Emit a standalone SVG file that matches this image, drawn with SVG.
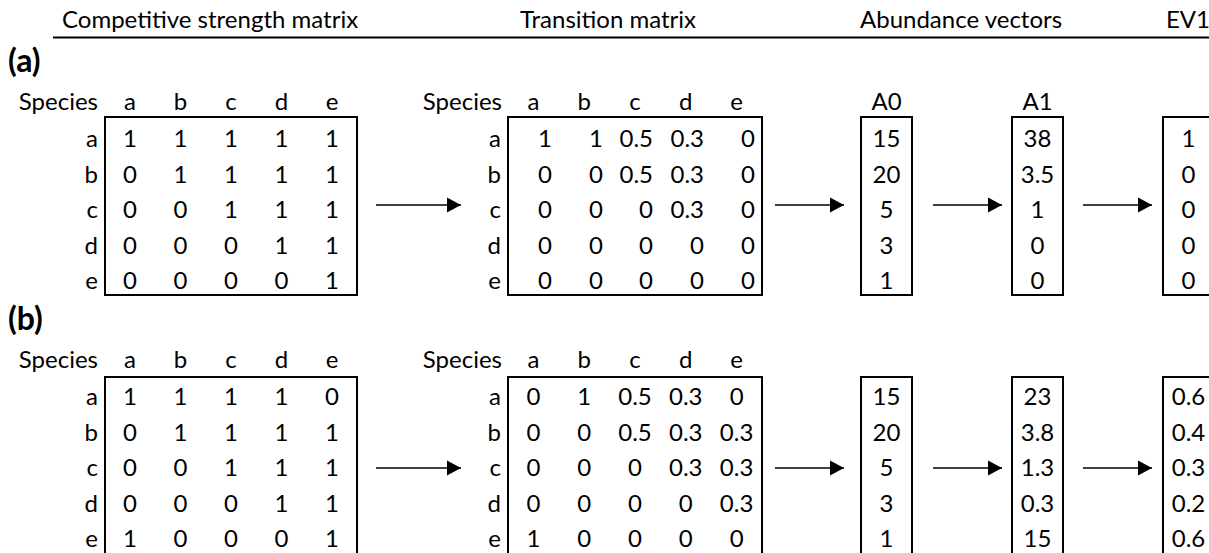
<svg xmlns="http://www.w3.org/2000/svg" width="1209" height="553" viewBox="0 0 1209 553">
<style>
text{font-family:Lato,"Open Sans","Liberation Sans",sans-serif;font-size:24px;fill:#000}
.p{font-size:32px;font-weight:bold}
.c{text-anchor:middle}
.r{text-anchor:end}
.box{fill:none;stroke:#000;stroke-width:2}
.hl{stroke:#000;stroke-width:2}
.ar{stroke:#000;stroke-width:1.6;fill:none;marker-end:url(#ah)}
</style>
<defs>
<marker id="ah" markerUnits="userSpaceOnUse" markerWidth="15" markerHeight="16" refX="14" refY="8" orient="auto">
<path d="M0,0.5 L14,8 L0,15.5 Z" fill="#000"/>
</marker>
</defs>
<rect width="1209" height="553" fill="#fff"/>
<g id="header">
<text x="62" y="28">Competitive strength matrix</text>
<text x="520" y="28">Transition matrix</text>
<text x="860" y="28">Abundance vectors</text>
<text x="1166" y="28">EV1</text>
<line class="hl" x1="53" y1="37.5" x2="1209" y2="37.5"/>
</g>
<g id="label-a"><text class="p" x="8" y="72">(a)</text></g>
<g id="label-b"><text class="p" x="8" y="330">(b)</text></g>

<g id="a-competitive">
<rect class="box" x="105" y="117" width="252" height="178"/>
<text class="r" x="98" y="110">Species</text>
<g class="c"><text x="130" y="110">a</text><text x="180.5" y="110">b</text><text x="231" y="110">c</text><text x="281.5" y="110">d</text><text x="332" y="110">e</text></g>
<g class="r"><text x="98" y="147">a</text><text x="98" y="182.5">b</text><text x="98" y="218">c</text><text x="98" y="253.5">d</text><text x="98" y="289">e</text></g>
<g class="c">
<text x="130" y="147">1</text><text x="180.5" y="147">1</text><text x="231" y="147">1</text><text x="281.5" y="147">1</text><text x="332" y="147">1</text>
<text x="130" y="182.5">0</text><text x="180.5" y="182.5">1</text><text x="231" y="182.5">1</text><text x="281.5" y="182.5">1</text><text x="332" y="182.5">1</text>
<text x="130" y="218">0</text><text x="180.5" y="218">0</text><text x="231" y="218">1</text><text x="281.5" y="218">1</text><text x="332" y="218">1</text>
<text x="130" y="253.5">0</text><text x="180.5" y="253.5">0</text><text x="231" y="253.5">0</text><text x="281.5" y="253.5">1</text><text x="332" y="253.5">1</text>
<text x="130" y="289">0</text><text x="180.5" y="289">0</text><text x="231" y="289">0</text><text x="281.5" y="289">0</text><text x="332" y="289">1</text>
</g>
</g>

<g id="a-transition">
<rect class="box" x="508" y="117" width="254" height="178"/>
<text class="r" x="502" y="110">Species</text>
<g class="c"><text x="533.4" y="110">a</text><text x="584.2" y="110">b</text><text x="635" y="110">c</text><text x="685.8" y="110">d</text><text x="736.6" y="110">e</text></g>
<g class="r"><text x="501" y="147">a</text><text x="501" y="182.5">b</text><text x="501" y="218">c</text><text x="501" y="253.5">d</text><text x="501" y="289">e</text></g>
<g class="r">
<text x="552" y="147">1</text><text x="603" y="147">1</text><text x="653" y="147">0.5</text><text x="704" y="147">0.3</text><text x="755" y="147">0</text>
<text x="552" y="182.5">0</text><text x="603" y="182.5">0</text><text x="653" y="182.5">0.5</text><text x="704" y="182.5">0.3</text><text x="755" y="182.5">0</text>
<text x="552" y="218">0</text><text x="603" y="218">0</text><text x="653" y="218">0</text><text x="704" y="218">0.3</text><text x="755" y="218">0</text>
<text x="552" y="253.5">0</text><text x="603" y="253.5">0</text><text x="653" y="253.5">0</text><text x="704" y="253.5">0</text><text x="755" y="253.5">0</text>
<text x="552" y="289">0</text><text x="603" y="289">0</text><text x="653" y="289">0</text><text x="704" y="289">0</text><text x="755" y="289">0</text>
</g>
</g>

<g id="a-A0">
<rect class="box" x="861" y="117" width="51" height="178"/>
<g class="c"><text x="886.5" y="110">A0</text>
<text x="886.5" y="147">15</text><text x="886.5" y="182.5">20</text><text x="886.5" y="218">5</text><text x="886.5" y="253.5">3</text><text x="886.5" y="289">1</text></g>
</g>
<g id="a-A1">
<rect class="box" x="1012" y="117" width="51" height="178"/>
<g class="c"><text x="1037.5" y="110">A1</text>
<text x="1037.5" y="147">38</text><text x="1037.5" y="182.5">3.5</text><text x="1037.5" y="218">1</text><text x="1037.5" y="253.5">0</text><text x="1037.5" y="289">0</text></g>
</g>
<g id="a-EV1">
<rect class="box" x="1163" y="117" width="51" height="178"/>
<g class="c">
<text x="1188.5" y="147">1</text><text x="1188.5" y="182.5">0</text><text x="1188.5" y="218">0</text><text x="1188.5" y="253.5">0</text><text x="1188.5" y="289">0</text></g>
</g>

<g id="b-competitive">
<rect class="box" x="105" y="377" width="252" height="180"/>
<text class="r" x="98" y="368">Species</text>
<g class="c"><text x="130" y="368">a</text><text x="180.5" y="368">b</text><text x="231" y="368">c</text><text x="281.5" y="368">d</text><text x="332" y="368">e</text></g>
<g class="r"><text x="98" y="405">a</text><text x="98" y="440.5">b</text><text x="98" y="476">c</text><text x="98" y="511.5">d</text><text x="98" y="547">e</text></g>
<g class="c">
<text x="130" y="405">1</text><text x="180.5" y="405">1</text><text x="231" y="405">1</text><text x="281.5" y="405">1</text><text x="332" y="405">0</text>
<text x="130" y="440.5">0</text><text x="180.5" y="440.5">1</text><text x="231" y="440.5">1</text><text x="281.5" y="440.5">1</text><text x="332" y="440.5">1</text>
<text x="130" y="476">0</text><text x="180.5" y="476">0</text><text x="231" y="476">1</text><text x="281.5" y="476">1</text><text x="332" y="476">1</text>
<text x="130" y="511.5">0</text><text x="180.5" y="511.5">0</text><text x="231" y="511.5">0</text><text x="281.5" y="511.5">1</text><text x="332" y="511.5">1</text>
<text x="130" y="547">1</text><text x="180.5" y="547">0</text><text x="231" y="547">0</text><text x="281.5" y="547">0</text><text x="332" y="547">1</text>
</g>
</g>

<g id="b-transition">
<rect class="box" x="508" y="377" width="254" height="180"/>
<text class="r" x="502" y="368">Species</text>
<g class="c"><text x="533.4" y="368">a</text><text x="584.2" y="368">b</text><text x="635" y="368">c</text><text x="685.8" y="368">d</text><text x="736.6" y="368">e</text></g>
<g class="r"><text x="501" y="405">a</text><text x="501" y="440.5">b</text><text x="501" y="476">c</text><text x="501" y="511.5">d</text><text x="501" y="547">e</text></g>
<g class="c">
<text x="533.4" y="405">0</text><text x="584.2" y="405">1</text><text x="635" y="405">0.5</text><text x="685.8" y="405">0.3</text><text x="736.6" y="405">0</text>
<text x="533.4" y="440.5">0</text><text x="584.2" y="440.5">0</text><text x="635" y="440.5">0.5</text><text x="685.8" y="440.5">0.3</text><text x="736.6" y="440.5">0.3</text>
<text x="533.4" y="476">0</text><text x="584.2" y="476">0</text><text x="635" y="476">0</text><text x="685.8" y="476">0.3</text><text x="736.6" y="476">0.3</text>
<text x="533.4" y="511.5">0</text><text x="584.2" y="511.5">0</text><text x="635" y="511.5">0</text><text x="685.8" y="511.5">0</text><text x="736.6" y="511.5">0.3</text>
<text x="533.4" y="547">1</text><text x="584.2" y="547">0</text><text x="635" y="547">0</text><text x="685.8" y="547">0</text><text x="736.6" y="547">0</text>
</g>
</g>

<g id="b-A0">
<rect class="box" x="861" y="377" width="51" height="180"/>
<g class="c">
<text x="886.5" y="405">15</text><text x="886.5" y="440.5">20</text><text x="886.5" y="476">5</text><text x="886.5" y="511.5">3</text><text x="886.5" y="547">1</text></g>
</g>
<g id="b-A1">
<rect class="box" x="1012" y="377" width="51" height="180"/>
<g class="c">
<text x="1037.5" y="405">23</text><text x="1037.5" y="440.5">3.8</text><text x="1037.5" y="476">1.3</text><text x="1037.5" y="511.5">0.3</text><text x="1037.5" y="547">15</text></g>
</g>
<g id="b-EV1">
<rect class="box" x="1163" y="377" width="51" height="180"/>
<g class="c">
<text x="1188.5" y="405">0.6</text><text x="1188.5" y="440.5">0.4</text><text x="1188.5" y="476">0.3</text><text x="1188.5" y="511.5">0.2</text><text x="1188.5" y="547">0.6</text></g>
</g>

<g id="connectors">
<line class="ar" x1="376" y1="205" x2="461" y2="205"/>
<line class="ar" x1="775" y1="205" x2="844" y2="205"/>
<line class="ar" x1="933" y1="205" x2="1002" y2="205"/>
<line class="ar" x1="1083" y1="205" x2="1152" y2="205"/>
<line class="ar" x1="376" y1="468" x2="461" y2="468"/>
<line class="ar" x1="775" y1="468" x2="844" y2="468"/>
<line class="ar" x1="933" y1="468" x2="1002" y2="468"/>
<line class="ar" x1="1083" y1="468" x2="1152" y2="468"/>
</g>
</svg>
